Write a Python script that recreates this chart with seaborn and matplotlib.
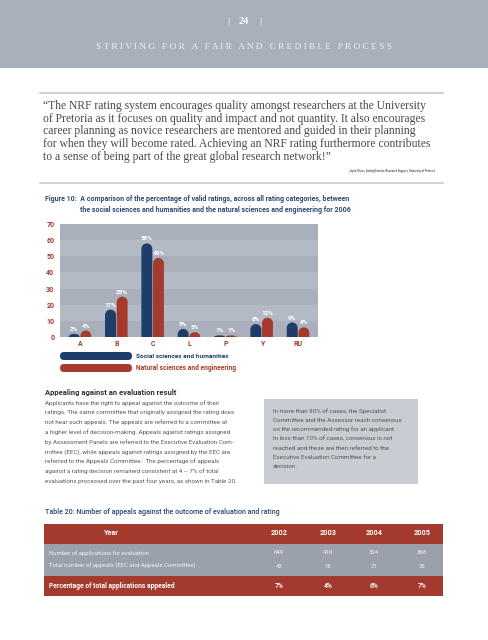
import numpy as np
import pandas as pd
import matplotlib
matplotlib.use("Agg")
import matplotlib.pyplot as plt
import seaborn as sns
from matplotlib.patches import Rectangle, FancyBboxPatch, PathPatch
from matplotlib.path import Path

# ---------------- data ----------------
categories = ["A", "B", "C", "L", "P", "Y", "RU"]
social = [2, 17, 58, 5, 1, 8, 9]
natural = [4, 25, 49, 3, 1, 12, 6]
series_names = ["Social sciences and humanities", "Natural sciences and engineering"]
y_ticks = [0, 10, 20, 30, 40, 50, 60, 70]

table_years = ["2002", "2003", "2004", "2005"]
table_row_labels = ["Number of applications for evaluation",
                    "Total number of appeals (EEC and Appeals Committee)"]
applications = [649, 410, 324, 368]
appeals = [43, 16, 21, 26]
pct_label = "Percentage of total applications appealed"
pct_appealed = ["7%", "4%", "6%", "7%"]

quote_lines = [
    "\u201cThe NRF rating system encourages quality amongst researchers at the University",
    "of Pretoria as it focuses on quality and impact and not quantity. It also encourages",
    "career planning as novice researchers are mentored and guided in their planning",
    "for when they will become rated. Achieving an NRF rating furthermore contributes",
    "to a sense of being part of the great global research network!\u201d",
]
attribution = "Joyce Olivier, Acting Director: Research Support, University of Pretoria"
fig_title = ["Figure 10:  A comparison of the percentage of valid ratings, across all rating categories, between",
             "the social sciences and humanities and the natural sciences and engineering for 2006"]
para_head = "Appealing against an evaluation result"
para_lines = [
    "Applicants have the right to appeal against the outcome of their",
    "ratings. The same committee that originally assigned the rating does",
    "not hear such appeals. The appeals are referred to a committee at",
    "a higher level of decision-making. Appeals against ratings assigned",
    "by Assessment Panels are referred to the Executive Evaluation Com-",
    "mittee (EEC), while appeals against ratings assigned by the EEC are",
    "referred to the Appeals Committee.  The percentage of appeals",
    "against a rating decision remained consistent at 4 \u2013 7% of total",
    "evaluations processed over the past four years, as shown in Table 20.",
]
box_lines = [
    "In more than 90% of cases, the Specialist",
    "Committee and the Assessor reach consensus",
    "on the recommended rating for an applicant.",
    "In less than 10% of cases, consensus is not",
    "reached and these are then referred to the",
    "Executive Evaluation Committee for a",
    "decision.",
]
table_title = "Table 20: Number of appeals against the outcome of evaluation and rating"

# ---------------- style ----------------
NAVY = "#1f3d6b"
RED = "#a63b2d"
TICKRED = "#9c3b30"
HEADER = "#a9afbb"
STRIPE_D = "#aab0bb"
STRIPE_L = "#b4bac4"
SANS = ["Roboto", "DejaVu Sans"]
SERIF = ["Liberation Serif", "DejaVu Serif"]

sns.set_theme(style="white")
plt.rcParams["font.family"] = SANS

fig = plt.figure(figsize=(4.88, 6.40), dpi=100)
bg = fig.add_axes([0, 0, 1, 1])
bg.set_xlim(0, 488)
bg.set_ylim(640, 0)
bg.axis("off")
R = fig.canvas.get_renderer()


def txt(x, y, s, size=6, w=None, ha="left", **kw):
    t = bg.text(x, y, s, fontsize=size, ha=ha, va="center", **kw)
    if w is not None:
        bb = t.get_window_extent(R)
        t.set_fontsize(size * w / bb.width)
    return t


def block(x, y0, step, lines, fit_idx, w, **kw):
    t = txt(x, y0 + step * fit_idx, lines[fit_idx], w=w, **kw)
    fs = t.get_fontsize()
    for i, s in enumerate(lines):
        if i != fit_idx:
            txt(x, y0 + step * i, s, size=fs, **kw)


# ---------------- header ----------------
bg.add_patch(Rectangle((0, 0), 488, 68, color=HEADER, lw=0))
txt(228, 21, "|", size=7, ha="center", color="white", family=SERIF)
txt(244, 21, "24", size=7.5, ha="center", color="white", family=SERIF, weight="bold")
txt(260, 21, "|", size=7, ha="center", color="white", family=SERIF)
spaced = "   ".join(" ".join(wd) for wd in "STRIVING FOR A FAIR AND CREDIBLE PROCESS".split())
txt(244, 47, spaced, w=298, ha="center", color="#eef0f3", family=SERIF)

# ---------------- quote ----------------
bg.plot([40, 443], [93, 93], color="#d2d2d2", lw=1.5)
bg.plot([40, 443], [183, 183], color="#d2d2d2", lw=1.5)
block(43, 106, 12.7, quote_lines, 3, 392, color="#4a4a4a", family=SERIF)
txt(435, 171, attribution, w=90, ha="right", color="#555555", weight="bold")

# ---------------- figure title ----------------
txt(45, 199, fig_title[0], w=308, color="#2b4a75", weight="bold")
txt(80, 210, fig_title[1], w=272, color="#2b4a75", weight="bold")

# ---------------- chart ----------------
ax = fig.add_axes([60 / 488, (640 - 337) / 640, 258 / 488, 113 / 640])
ax.patch.set_alpha(0)
df = pd.DataFrame({
    "category": categories * 2,
    "value": social + natural,
    "group": [series_names[0]] * len(categories) + [series_names[1]] * len(categories),
})
sns.barplot(data=df, x="category", y="value", hue="group", order=categories,
            hue_order=series_names, palette=[NAVY, RED], width=0.64, gap=0.06,
            saturation=1, errorbar=None, legend=False, ax=ax)
bars = [p for c in ax.containers for p in c]
ax.set_xlim(-0.55, len(categories) - 0.45)
ax.set_ylim(0, 70)
for i in range(7):
    ax.axhspan(i * 10, i * 10 + 10, color=STRIPE_D if i % 2 == 0 else STRIPE_L, lw=0, zorder=0)
for sp in ax.spines.values():
    sp.set_visible(False)
ax.set_xlabel("")
ax.set_ylabel("")
ax.set_yticks(y_ticks)
ax.tick_params(axis="y", length=0, pad=4, labelsize=5, labelcolor=TICKRED)
ax.tick_params(axis="x", length=0, pad=2, labelsize=5, labelcolor=TICKRED)
for lab in ax.get_yticklabels() + ax.get_xticklabels():
    lab.set_fontweight("bold")

p0 = ax.transData.transform((0, 0))
p1 = ax.transData.transform((1, 1))
xpx, ypx = p1[0] - p0[0], p1[1] - p0[1]
for r in bars:
    x0, w, h = r.get_x(), r.get_width(), r.get_height()
    col = r.get_facecolor()
    r.set_visible(False)
    rx = w / 2
    ry = min(rx * xpx / ypx, h)
    cx = x0 + rx
    arc = Path.arc(0, 180)
    verts = [(x0 + w, 0), (x0 + w, h - ry)]
    codes = [Path.MOVETO, Path.LINETO]
    av = arc.vertices * np.array([rx, ry]) + np.array([cx, h - ry])
    verts += [tuple(v) for v in av[1:]]
    codes += list(arc.codes[1:])
    verts += [(x0, 0), (x0 + w, 0)]
    codes += [Path.LINETO, Path.CLOSEPOLY]
    ax.add_patch(PathPatch(Path(verts, codes), facecolor=col, lw=0, zorder=2))
    ax.text(cx, h + 1.2, f"{h:g}%", ha="center", va="bottom", fontsize=4.6,
            color="white", weight="bold", zorder=3)

# legend
for i, (name, col) in enumerate(zip(series_names, [NAVY, RED])):
    yc = 356 + 12 * i
    bg.add_patch(FancyBboxPatch((60, yc - 4), 72, 8, boxstyle="round,pad=0,rounding_size=4",
                                facecolor=col, lw=0))
    txt(136, yc, name, w=92 if i == 0 else 100, color=col, weight="bold")

# ---------------- paragraph ----------------
txt(45, 392, para_head, w=133, color="#333333", weight="bold")
block(45, 403, 9.75, para_lines, 0, 177, color="#5a5a5a")

bg.add_patch(Rectangle((264, 399), 154, 85, color="#c9ccd3", lw=0))
block(273, 411, 9.3, box_lines, 1, 131, color="#555555")

# ---------------- table ----------------
txt(45, 512, table_title, w=237, color="#2b4a75", weight="medium")
TRED = "#a33a2d"
TGRAY = "#9aa1ad"
bg.add_patch(Rectangle((44, 524), 399, 20, color=TRED, lw=0))
bg.add_patch(Rectangle((44, 544), 399, 32, color=TGRAY, lw=0))
bg.add_patch(Rectangle((44, 576), 399, 20, color=TRED, lw=0))
col_x = [279, 328, 374, 422]
hs = txt(111, 533, "Year", w=15, ha="center", color="white", weight="bold").get_fontsize()
for x, yr in zip(col_x, table_years):
    txt(x, 533, yr, size=hs, ha="center", color="white", weight="bold")
rs = txt(49, 566, table_row_labels[1], w=149, color="#f2f2f2").get_fontsize()
txt(49, 553, table_row_labels[0], size=rs, color="#f2f2f2")
for x, a, b in zip(col_x, applications, appeals):
    txt(x, 553, str(a), size=rs, ha="center", color="#f2f2f2")
    txt(x, 566, str(b), size=rs, ha="center", color="#f2f2f2")
ps = txt(49, 586, pct_label, w=127, color="white", weight="bold").get_fontsize()
for x, p in zip(col_x, pct_appealed):
    txt(x, 586, p, size=ps, ha="center", color="white", weight="bold")

fig.savefig("out.png", dpi=100)
